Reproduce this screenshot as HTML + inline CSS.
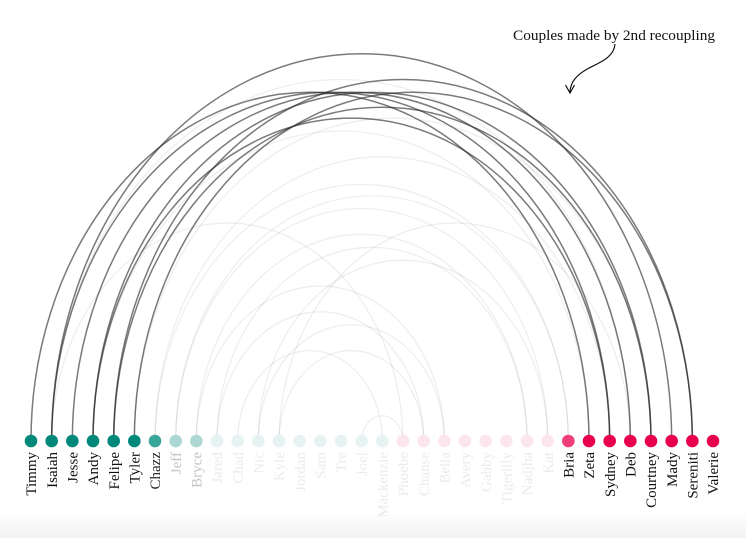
<!DOCTYPE html>
<html>
<head>
<meta charset="utf-8">
<style>
  html,body{margin:0;padding:0;background:#fff;}
  body{width:746px;height:538px;overflow:hidden;}
  svg{display:block;}
  .lbl{font-family:"Liberation Serif",serif;font-size:15px;}
</style>
</head>
<body>
<svg width="746" height="538" viewBox="0 0 746 538" xmlns="http://www.w3.org/2000/svg">
  <defs>
    <linearGradient id="bg" x1="0" y1="0" x2="0" y2="1">
      <stop offset="0" stop-color="#ffffff"/>
      <stop offset="1" stop-color="#f3f3f3"/>
    </linearGradient>
  </defs>
  <rect x="0" y="0" width="746" height="538" fill="#fff"/>
  <rect x="0" y="510" width="746" height="28" fill="url(#bg)"/>

  <!-- faint arcs -->
  <g fill="none" stroke="#000" stroke-opacity="0.065" stroke-width="1.3">
    <path d="M51.67,441 A289.33,361.67 0 0 1 630.33,441"/>
    <path d="M155,441 A227.33,284.17 0 0 1 609.67,441"/>
    <path d="M155,441 A206.67,258.33 0 0 1 568.33,441"/>
    <path d="M175.67,441 A196.33,245.42 0 0 1 568.33,441"/>
    <path d="M175.67,441 A186,232.5 0 0 1 547.67,441"/>
    <path d="M51.67,441 A175.67,219.58 0 0 1 403,441"/>
    <path d="M279,441 A175.67,219.58 0 0 1 630.33,441"/>
    <path d="M196.33,441 A165.33,206.67 0 0 1 527,441"/>
    <path d="M258.33,441 A144.67,180.83 0 0 1 547.67,441"/>
    <path d="M217,441 A155,193.75 0 0 1 527,441"/>
    <path d="M196.33,441 A124,155 0 0 1 444.33,441"/>
    <path d="M217,441 A103.33,129.17 0 0 1 423.67,441"/>
    <path d="M237.67,441 A72.33,90.42 0 0 1 382.33,441"/>
    <path d="M258.33,441 A93,116.25 0 0 1 444.33,441"/>
    <path d="M361.67,441 A20.67,25.83 0 0 1 403,441"/>
    <path d="M279,441 A72.33,90.42 0 0 1 423.67,441"/>
    <path d="M134.33,441 A258.33,322.92 0 0 1 651,441"/>
    <path d="M93,441 A248,310 0 0 1 589,441"/>
  </g>

  <!-- dark arcs (2nd recoupling) -->
  <g fill="none" stroke="#222" stroke-opacity="0.6" stroke-width="1.5">
    <path d="M51.67,441 A310,387.5 0 0 1 671.67,441"/>
    <path d="M113.67,441 A289.33,361.67 0 0 1 692.33,441"/>
    <path d="M93,441 A258.33,322.92 0 0 1 609.67,441"/>
    <path d="M31,441 A279,348.75 0 0 1 589,441"/>
    <path d="M51.67,441 A279,348.75 0 0 1 609.67,441"/>
    <path d="M72.33,441 A279,348.75 0 0 1 630.33,441"/>
    <path d="M93,441 A279,348.75 0 0 1 651,441"/>
    <path d="M134.33,441 A279,348.75 0 0 1 692.33,441"/>
    <path d="M113.67,441 A268.67,335.83 0 0 1 651,441"/>
  </g>

  <!-- nodes -->
  <g>
    <circle cx="31" cy="441" r="6.3" fill="#00897b"/>
    <circle cx="51.67" cy="441" r="6.3" fill="#00897b"/>
    <circle cx="72.33" cy="441" r="6.3" fill="#00897b"/>
    <circle cx="93" cy="441" r="6.3" fill="#00897b"/>
    <circle cx="113.67" cy="441" r="6.3" fill="#00897b"/>
    <circle cx="134.33" cy="441" r="6.3" fill="#00897b"/>
    <circle cx="155" cy="441" r="6.3" fill="#3aa59b"/>
    <circle cx="175.67" cy="441" r="6.3" fill="#acd7d3"/>
    <circle cx="196.33" cy="441" r="6.3" fill="#acd7d3"/>
    <circle cx="217" cy="441" r="6.3" fill="#e6f3f2"/>
    <circle cx="237.67" cy="441" r="6.3" fill="#e6f3f2"/>
    <circle cx="258.33" cy="441" r="6.3" fill="#e6f3f2"/>
    <circle cx="279" cy="441" r="6.3" fill="#e6f3f2"/>
    <circle cx="299.67" cy="441" r="6.3" fill="#e6f3f2"/>
    <circle cx="320.33" cy="441" r="6.3" fill="#e6f3f2"/>
    <circle cx="341" cy="441" r="6.3" fill="#e6f3f2"/>
    <circle cx="361.67" cy="441" r="6.3" fill="#e6f3f2"/>
    <circle cx="382.33" cy="441" r="6.3" fill="#e6f3f2"/>
    <circle cx="403" cy="441" r="6.3" fill="#fde5ed"/>
    <circle cx="423.67" cy="441" r="6.3" fill="#fde5ed"/>
    <circle cx="444.33" cy="441" r="6.3" fill="#fde5ed"/>
    <circle cx="465" cy="441" r="6.3" fill="#fde5ed"/>
    <circle cx="485.67" cy="441" r="6.3" fill="#fde5ed"/>
    <circle cx="506.33" cy="441" r="6.3" fill="#fde5ed"/>
    <circle cx="527" cy="441" r="6.3" fill="#fde5ed"/>
    <circle cx="547.67" cy="441" r="6.3" fill="#fde5ed"/>
    <circle cx="568.33" cy="441" r="6.3" fill="#f03e78"/>
    <circle cx="589" cy="441" r="6.3" fill="#e8004f"/>
    <circle cx="609.67" cy="441" r="6.3" fill="#e8004f"/>
    <circle cx="630.33" cy="441" r="6.3" fill="#e8004f"/>
    <circle cx="651" cy="441" r="6.3" fill="#e8004f"/>
    <circle cx="671.67" cy="441" r="6.3" fill="#e8004f"/>
    <circle cx="692.33" cy="441" r="6.3" fill="#e8004f"/>
    <circle cx="713" cy="441" r="6.3" fill="#e8004f"/>
  </g>

  <!-- labels -->
  <g class="lbl" text-anchor="end">
    <text transform="translate(36.2,452) rotate(-90)" fill="#111">Timmy</text>
    <text transform="translate(56.9,452) rotate(-90)" fill="#111">Isaiah</text>
    <text transform="translate(77.5,452) rotate(-90)" fill="#111">Jesse</text>
    <text transform="translate(98.2,452) rotate(-90)" fill="#111">Andy</text>
    <text transform="translate(118.9,452) rotate(-90)" fill="#111">Felipe</text>
    <text transform="translate(139.5,452) rotate(-90)" fill="#111">Tyler</text>
    <text transform="translate(160.2,452) rotate(-90)" fill="#2b2b2b">Chazz</text>
    <text transform="translate(180.9,452) rotate(-90)" fill="#c4c4c4">Jeff</text>
    <text transform="translate(201.5,452) rotate(-90)" fill="#c4c4c4">Bryce</text>
    <text transform="translate(222.2,452) rotate(-90)" fill="#ebebeb">Jared</text>
    <text transform="translate(242.9,452) rotate(-90)" fill="#ebebeb">Chad</text>
    <text transform="translate(263.5,452) rotate(-90)" fill="#ebebeb">Nic</text>
    <text transform="translate(284.2,452) rotate(-90)" fill="#ebebeb">Kyle</text>
    <text transform="translate(304.9,452) rotate(-90)" fill="#ebebeb">Jordan</text>
    <text transform="translate(325.5,452) rotate(-90)" fill="#ebebeb">Sam</text>
    <text transform="translate(346.2,452) rotate(-90)" fill="#ebebeb">Tre</text>
    <text transform="translate(366.9,452) rotate(-90)" fill="#ebebeb">Joel</text>
    <text transform="translate(387.5,452) rotate(-90)" fill="#ebebeb">Mackenzie</text>
    <text transform="translate(408.2,452) rotate(-90)" fill="#ebebeb">Phoebe</text>
    <text transform="translate(428.9,452) rotate(-90)" fill="#ebebeb">Chanse</text>
    <text transform="translate(449.5,452) rotate(-90)" fill="#ebebeb">Bella</text>
    <text transform="translate(470.2,452) rotate(-90)" fill="#ebebeb">Avery</text>
    <text transform="translate(490.9,452) rotate(-90)" fill="#ebebeb">Gabby</text>
    <text transform="translate(511.5,452) rotate(-90)" fill="#ebebeb">Tigerlily</text>
    <text transform="translate(532.2,452) rotate(-90)" fill="#ebebeb">Nadjha</text>
    <text transform="translate(552.9,452) rotate(-90)" fill="#ebebeb">Kat</text>
    <text transform="translate(573.5,452) rotate(-90)" fill="#111">Bria</text>
    <text transform="translate(594.2,452) rotate(-90)" fill="#111">Zeta</text>
    <text transform="translate(614.9,452) rotate(-90)" fill="#111">Sydney</text>
    <text transform="translate(635.5,452) rotate(-90)" fill="#111">Deb</text>
    <text transform="translate(656.2,452) rotate(-90)" fill="#111">Courtney</text>
    <text transform="translate(676.9,452) rotate(-90)" fill="#111">Mady</text>
    <text transform="translate(697.5,452) rotate(-90)" fill="#111">Sereniti</text>
    <text transform="translate(718.2,452) rotate(-90)" fill="#111">Valerie</text>
  </g>

  <!-- annotation -->
  <text x="513" y="40" class="lbl" fill="#111" textLength="202" lengthAdjust="spacingAndGlyphs">Couples made by 2nd recoupling</text>
  <path d="M615,44 C614,57 601,62 589,68 C578,74 570,81 570,93" fill="none" stroke="#111" stroke-width="1.2"/>
  <path d="M565.5,85 L570,93 L574.5,85" fill="none" stroke="#111" stroke-width="1.2"/>
</svg>
</body>
</html>
